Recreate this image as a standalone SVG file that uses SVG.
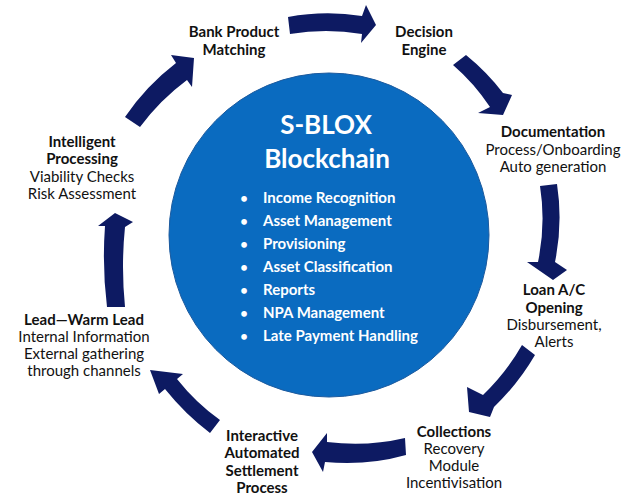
<svg xmlns="http://www.w3.org/2000/svg" width="623" height="495" viewBox="0 0 623 495">
<style>
text{font-family:Lato,"Liberation Sans",sans-serif;text-anchor:middle;fill:#111111;font-size:15px}
.b{font-weight:bold}
.arrow{fill:#0d1a62}
.hub{fill:#0a6bc0;stroke:#1c5a9e;stroke-width:1}
.w{fill:#ffffff;font-weight:bold}
.title{font-size:26px}
.li{font-size:15px;text-anchor:start}
.dot{font-size:13px;text-anchor:middle}
</style>
<rect width="623" height="495" fill="#ffffff"/>
<g id="connectors">
<path class="arrow" d="M288,17 Q325,10 362,16 L366,5 L376,25 L361,43 L362,34 Q326,28 290,34 Z"/>
<path class="arrow" d="M453,65 L466,55 Q487,72 503,93 L512,95 L503,115 L478,113 L490,107 Q474,83 453,65 Z"/>
<path class="arrow" d="M540,186 L557,184 Q563,223 555,262 L567,270 L553,280 L527,262 L538,262 Q546,224 540,186 Z"/>
<path class="arrow" d="M522,345 L535,355 Q518,384 494,407 L490,417 L469,412 L467,387 L483,395 Q506,373 522,345 Z"/>
<path class="arrow" d="M405,438 L406,455 Q367,466 325,462 L323,472 L312,452 L327,433 L327,442 Q367,447 405,438 Z"/>
<path class="arrow" d="M210,433 Q185,414 165,389 L159,394 L150,370 L183,374 L177,379 Q196,403 220,420 Z"/>
<path class="arrow" d="M107,307 L125,307 Q121,267 125,227 L133,222 L115,213 L98,226 L105,226 Q102,267 107,307 Z"/>
<path class="arrow" d="M125,117 Q146,86 176,63 L171,55 L194,58 L192,87 L187,80 Q160,100 140,127 Z"/>
</g>
<g id="sblox">
<ellipse class="hub" cx="329" cy="235" rx="160" ry="162"/>
<text class="w title" x="326" y="134">S-BLOX</text>
<text class="w title" x="327" y="168">Blockchain</text>
<g class="w">
<text class="w dot" x="244" y="203">•</text><text class="w li" x="263" y="203">Income Recognition</text>
<text class="w dot" x="244" y="226">•</text><text class="w li" x="263" y="226">Asset Management</text>
<text class="w dot" x="244" y="249">•</text><text class="w li" x="263" y="249">Provisioning</text>
<text class="w dot" x="244" y="272">•</text><text class="w li" x="263" y="272">Asset Classification</text>
<text class="w dot" x="244" y="295">•</text><text class="w li" x="263" y="295">Reports</text>
<text class="w dot" x="244" y="318">•</text><text class="w li" x="263" y="318">NPA Management</text>
<text class="w dot" x="244" y="341">•</text><text class="w li" x="263" y="341">Late Payment Handling</text>
</g>
</g>
<g id="bank-product">
<text class="b" x="234" y="37">Bank Product</text>
<text class="b" x="234" y="55">Matching</text>
</g>
<g id="decision-engine">
<text class="b" x="424" y="37">Decision</text>
<text class="b" x="424" y="55">Engine</text>
</g>
<g id="documentation">
<text class="b" x="553" y="137">Documentation</text>
<text x="553" y="155">Process/Onboarding</text>
<text x="553" y="172">Auto generation</text>
</g>
<g id="loan-opening">
<text class="b" x="554" y="295">Loan A/C</text>
<text class="b" x="554" y="313">Opening</text>
<text x="554" y="330">Disbursement,</text>
<text x="554" y="347">Alerts</text>
</g>
<g id="collections">
<text class="b" x="454" y="437">Collections</text>
<text x="454" y="454">Recovery</text>
<text x="454" y="471">Module</text>
<text x="454" y="488">Incentivisation</text>
</g>
<g id="settlement">
<text class="b" x="262" y="441">Interactive</text>
<text class="b" x="262" y="458">Automated</text>
<text class="b" x="262" y="476">Settlement</text>
<text class="b" x="262" y="493">Process</text>
</g>
<g id="lead">
<text class="b" x="84" y="325" textLength="120" lengthAdjust="spacing">Lead—Warm Lead</text>
<text x="84" y="342">Internal Information</text>
<text x="84" y="359">External gathering</text>
<text x="84" y="376">through channels</text>
</g>
<g id="intelligent-processing">
<text class="b" x="82" y="147">Intelligent</text>
<text class="b" x="82" y="164">Processing</text>
<text x="82" y="182">Viability Checks</text>
<text x="82" y="199">Risk Assessment</text>
</g>
</svg>
